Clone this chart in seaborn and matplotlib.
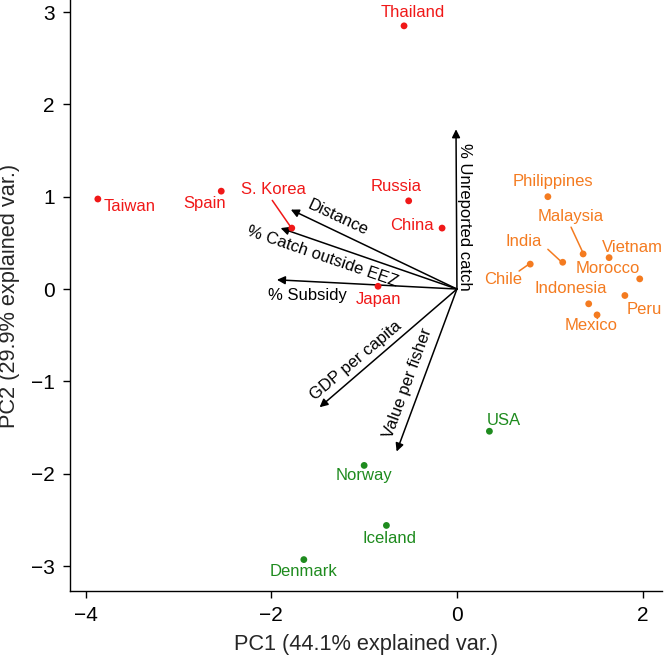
import matplotlib
matplotlib.use("Agg")
import matplotlib.pyplot as plt
import seaborn as sns
import pandas as pd

# ---- data ----
countries = ["Thailand", "Taiwan", "Spain", "S. Korea", "Russia", "China", "Japan",
             "Philippines", "Malaysia", "Vietnam", "Morocco", "India", "Chile",
             "Indonesia", "Peru", "Mexico", "USA", "Norway", "Iceland", "Denmark"]
pc1 = [-0.57, -3.87, -2.54, -1.78, -0.52, -0.16, -0.85,
       0.98, 1.36, 1.64, 1.97, 1.14, 0.79, 1.42, 1.81, 1.51,
       0.35, -1.00, -0.76, -1.65]
pc2 = [2.85, 0.975, 1.06, 0.66, 0.955, 0.66, 0.03,
       1.00, 0.38, 0.34, 0.11, 0.29, 0.27, -0.16, -0.07, -0.28,
       -1.54, -1.91, -2.56, -2.93]
groups = ["A"] * 7 + ["B"] * 9 + ["C"] * 4

variables = ["Distance", "% Catch outside EEZ", "% Subsidy", "% Unreported catch",
             "GDP per capita", "Value per fisher"]
load_pc1 = [-1.79, -1.90, -1.94, -0.01, -1.48, -0.65]
load_pc2 = [0.86, 0.66, 0.10, 1.73, -1.28, -1.76]

# ---- label placement (layout, not data) ----
label_pos = {
    "Thailand": (-0.475, 2.99), "Taiwan": (-3.53, 0.89), "Spain": (-2.72, 0.93),
    "S. Korea": (-1.98, 1.08), "Russia": (-0.65, 1.105), "China": (-0.49, 0.69),
    "Japan": (-0.84, -0.11), "Philippines": (1.03, 1.16), "Malaysia": (1.23, 0.79),
    "Vietnam": (1.89, 0.455), "Morocco": (1.63, 0.217), "India": (0.72, 0.51),
    "Chile": (0.50, 0.10), "Indonesia": (1.23, 0.01), "Peru": (2.02, -0.22),
    "Mexico": (1.45, -0.39), "USA": (0.50, -1.42), "Norway": (-1.00, -2.015),
    "Iceland": (-0.73, -2.70), "Denmark": (-1.65, -3.055),
}
leader = {
    "S. Korea": ((-1.99, 0.96), (-1.79, 0.67)),
    "Malaysia": ((1.23, 0.67), (1.355, 0.40)),
    "India": ((0.98, 0.43), (1.12, 0.30)),
    "Chile": ((0.67, 0.195), (0.77, 0.265)),
}
var_label = {
    "Distance": (-1.285, 0.77, -25),
    "% Catch outside EEZ": (-1.45, 0.35, -19),
    "% Subsidy": (-1.61, -0.075, 0),
    "% Unreported catch": (0.08, 0.78, -90),
    "GDP per capita": (-1.09, -0.77, 40),
    "Value per fisher": (-0.53, -1.02, 70),
}

palette = {"A": "#F01818", "B": "#F47B20", "C": "#1E8B1E"}

sns.set_theme(style="ticks")
plt.rcParams["font.family"] = ["Liberation Sans", "DejaVu Sans"]

df = pd.DataFrame({"country": countries, "PC1": pc1, "PC2": pc2, "group": groups})

fig = plt.figure(figsize=(6.65, 6.56), dpi=100)
ax = fig.add_axes([70 / 665, 65 / 656, 592 / 665, 591 / 656])

sns.scatterplot(data=df, x="PC1", y="PC2", hue="group", palette=palette,
                s=24, linewidth=0, legend=False, ax=ax, zorder=3)

for c, g in zip(countries, groups):
    lx, ly = label_pos[c]
    ax.text(lx, ly, c, color=palette[g], fontsize=12, ha="center", va="center", zorder=4)
for c, ((x0, y0), (x1, y1)) in leader.items():
    g = groups[countries.index(c)]
    ax.plot([x0, x1], [y0, y1], color=palette[g], lw=1.1, zorder=3)

for v, lx1, ly1 in zip(variables, load_pc1, load_pc2):
    ax.annotate("", xy=(lx1, ly1), xytext=(0, 0),
                arrowprops=dict(arrowstyle="-|>", color="black", lw=1.1,
                                mutation_scale=12, shrinkA=0, shrinkB=0), zorder=2)
    tx, ty, rot = var_label[v]
    ax.text(tx, ty, v, fontsize=12, color="black", rotation=rot,
            rotation_mode="anchor", ha="center", va="center", zorder=4)

ax.set_xlim(-4.17, 2.21)
ax.set_ylim(-3.27, 3.13)
ax.set_xticks([-4, -2, 0, 2])
ax.set_yticks([-3, -2, -1, 0, 1, 2, 3])
ax.set_xticklabels(["\u22124", "\u22122", "0", "2"])
ax.set_yticklabels(["\u22123", "\u22122", "\u22121", "0", "1", "2", "3"])
ax.tick_params(axis="both", labelsize=15, length=5, width=1, color="black",
               labelcolor="black", pad=6, direction="out")
ax.set_xlabel("PC1 (44.1% explained var.)", fontsize=15.7, labelpad=6)
ax.set_ylabel("PC2 (29.9% explained var.)", fontsize=15.7, labelpad=8)
sns.despine(ax=ax)
for sp in ["left", "bottom"]:
    ax.spines[sp].set_color("black")
    ax.spines[sp].set_linewidth(1)

fig.savefig("out.png", dpi=100)
